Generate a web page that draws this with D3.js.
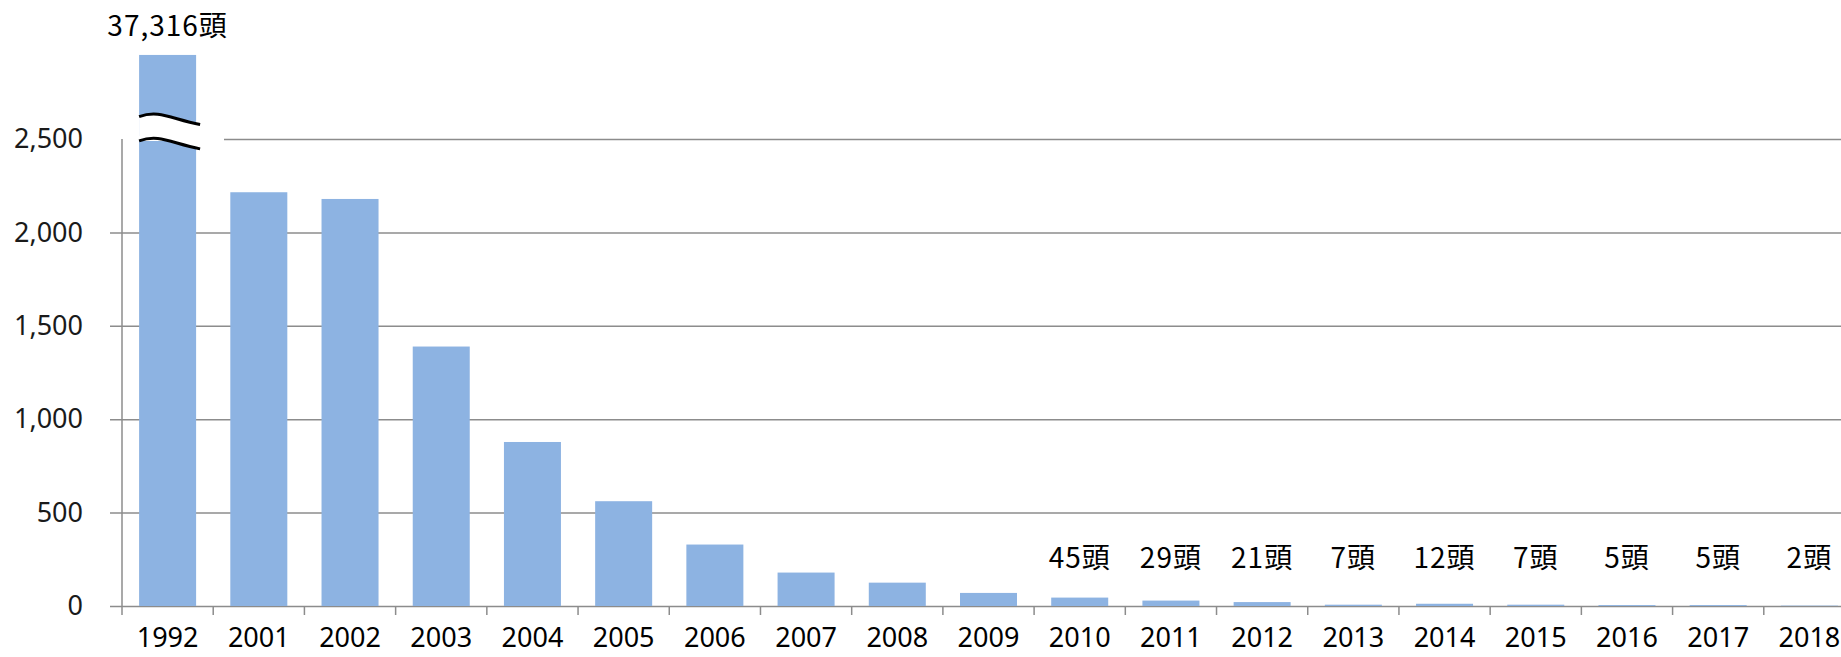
<!DOCTYPE html>
<html>
<head>
<meta charset="utf-8">
<script src="https://cdn.jsdelivr.net/npm/d3@7"></script>
<style>
  body { margin: 0; background: #fff; }
  svg { display: block; }
</style>
</head>
<body>
<svg id="chart"></svg>
<script>
// BSE cases by year (world)
var years = ["1992", "2001", "2002", "2003", "2004", "2005", "2006", "2007", "2008", "2009",
             "2010", "2011", "2012", "2013", "2014", "2015", "2016", "2017", "2018"];
var cases = [37316, 2215, 2179, 1389, 878, 561, 329, 179, 125, 70,
             45, 29, 21, 7, 12, 7, 5, 5, 2];
var yTicks = [0, 500, 1000, 1500, 2000, 2500];
var labelledYears = ["1992", "2010", "2011", "2012", "2013", "2014", "2015", "2016", "2017", "2018"];
var unit = "頭";

// the 1992 bar is cut (axis break) and drawn up to this value
var breakCap = 2950;
var breakLow = 2490, breakHigh = 2620;

var svgWidth = 1841, svgHeight = 657;
var margin = {top: 139, left: 122, bottom: 51};
var plotRight = 1855;   // last band runs past the picture edge

var data = years.map(function(y, i) { return {year: y, value: cases[i]}; });

var svg = d3.select("#chart")
    .attr("width", svgWidth)
    .attr("height", svgHeight);

var x = d3.scaleBand()
    .domain(years)
    .range([margin.left, plotRight])
    .paddingInner(0.375)
    .paddingOuter(0.1875);

var y = d3.scaleLinear()
    .domain([0, 2500])
    .range([svgHeight - margin.bottom, margin.top]);

var gridColor = "#8c8c8c";
var barColor = "#8db3e2";

// gridlines + y labels
var yAxis = d3.axisLeft(y)
    .tickValues(yTicks)
    .tickFormat(d3.format(","))
    .tickSizeInner(-(svgWidth - margin.left))
    .tickSizeOuter(0)
    .tickPadding(39);

var gy = svg.append("g")
    .attr("transform", "translate(" + margin.left + ",0)")
    .call(yAxis);
gy.select(".domain").remove();
gy.selectAll(".tick line")
    .attr("x1", -12)
    .attr("stroke", gridColor)
    .attr("stroke-width", 1.5);
gy.selectAll(".tick text")
    .attr("fill", "#1a1a1a")
    .style("font-family", "'Noto Sans', 'Open Sans', sans-serif")
    .style("font-size", "27px");

// bars
svg.selectAll("rect.bar")
    .data(data)
    .enter()
    .append("rect")
    .attr("class", "bar")
    .attr("x", function(d) { return x(d.year); })
    .attr("width", x.bandwidth())
    .attr("y", function(d) { return y(Math.min(d.value, breakCap)); })
    .attr("height", function(d) { return y(0) - y(Math.min(d.value, breakCap)); })
    .attr("fill", barColor);

// axis break on the cut bar
var cut = data.filter(function(d) { return d.value > breakCap; });
cut.forEach(function(d) {
    var x0 = x(d.year), w = x.bandwidth();
    var x1 = x0 + w + 4;
    var yHi = y(breakHigh), yLo = y(breakLow);
    function wave(yy) {
        return "M" + x0 + "," + yy +
            " C" + (x0 + w * 0.35) + "," + (yy - 7) + " " +
            (x0 + w * 0.55) + "," + (yy + 2) + " " + x1 + "," + (yy + 8);
    }
    // white gap, also hiding the gridline near the break
    svg.append("rect")
        .attr("x", margin.left - 14)
        .attr("y", y(2500) - 3)
        .attr("width", 224 - margin.left + 14)
        .attr("height", 5)
        .attr("fill", "#fff");
    svg.append("path")
        .attr("d", wave(yHi) + " L" + x1 + "," + (yLo + 8) +
            " C" + (x0 + w * 0.55) + "," + (yLo + 2) + " " +
            (x0 + w * 0.35) + "," + (yLo - 7) + " " + x0 + "," + yLo + "Z")
        .attr("fill", "#fff");
    svg.append("path").attr("d", wave(yHi))
        .attr("fill", "none").attr("stroke", "#000").attr("stroke-width", 3);
    svg.append("path").attr("d", wave(yLo))
        .attr("fill", "none").attr("stroke", "#000").attr("stroke-width", 3);
});

// y axis line
svg.append("line")
    .attr("x1", margin.left).attr("x2", margin.left)
    .attr("y1", y(2500)).attr("y2", y(0) + 9)
    .attr("stroke", gridColor).attr("stroke-width", 1.5);

// category ticks at band edges
var edges = years.map(function(yr) { return x(yr) - (x.step() - x.bandwidth()) / 2; });
svg.selectAll("line.xtick")
    .data(edges.slice(1))
    .enter()
    .append("line")
    .attr("class", "xtick")
    .attr("x1", function(d) { return d; })
    .attr("x2", function(d) { return d; })
    .attr("y1", y(0))
    .attr("y2", y(0) + 9)
    .attr("stroke", gridColor)
    .attr("stroke-width", 1.5);

// x labels
var gx = svg.append("g")
    .attr("transform", "translate(0," + y(0) + ")")
    .call(d3.axisBottom(x).tickSize(0).tickPadding(22));
gx.select(".domain").remove();
gx.selectAll(".tick text")
    .attr("fill", "#000")
    .style("font-family", "'Noto Sans', 'Open Sans', sans-serif")
    .style("font-size", "27px");

// value labels
var fmt = d3.format(",");
svg.selectAll("text.vlabel")
    .data(data.filter(function(d) { return labelledYears.indexOf(d.year) >= 0; }))
    .enter()
    .append("text")
    .attr("class", "vlabel")
    .attr("x", function(d) { return x(d.year) + x.bandwidth() / 2; })
    .attr("y", function(d) {
        return d.value > breakCap ? y(breakCap) - 19 : y(0) - 38;
    })
    .attr("text-anchor", "middle")
    .attr("fill", "#000")
    .style("font-family", "'Noto Sans CJK JP', sans-serif")
    .style("font-size", "28px")
    .style("letter-spacing", "1px")
    .text(function(d) { return fmt(d.value) + unit; });
</script>
</body>
</html>
